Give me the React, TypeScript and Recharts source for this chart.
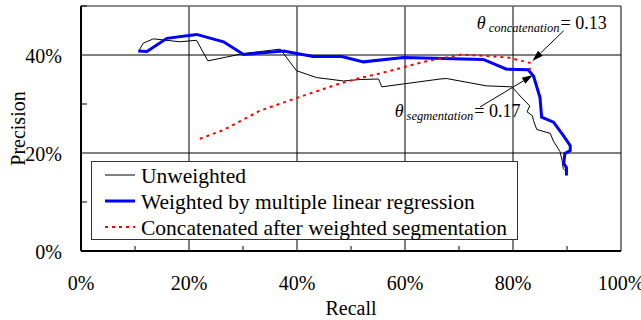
import {
  LineChart,
  Line,
  XAxis,
  YAxis,
  ReferenceLine,
  ReferenceDot,
  Legend,
  Label,
} from "recharts";

const FONT = "'Liberation Serif', 'Times New Roman', serif";

// axis ticks (percent)
const xTicks = [0, 10, 20, 30, 40, 50, 60, 70, 80, 90, 100];
const xMajor = [0, 20, 40, 60, 80, 100];
const yTicks = [0, 10, 20, 30, 40, 50];
const yMajor = [0, 20, 40];
const gridX = [20, 40, 60, 80];
const gridY = [20, 40];

// Unweighted
const unweightedRecall = [
  10.8, 11.5, 13.4, 18.3, 21.4, 23.5, 30.1, 36.9, 39.9, 43.6, 48.6, 51.7, 55.1,
  55.7, 66.5, 67.7, 75.1, 79.8, 81.6, 83.1, 82.6, 83.6, 83.8, 84.4, 86.9, 87.5,
  87.8, 88.7, 89.1, 89.3, 89.6,
];
const unweightedPrecision = [
  41.0, 42.4, 43.3, 42.7, 43.0, 38.8, 40.3, 41.2, 36.8, 35.4, 34.7, 35.0, 35.1,
  33.5, 35.1, 35.2, 33.7, 33.5, 31.3, 29.6, 28.4, 27.6, 26.6, 24.8, 24.0, 22.4,
  21.9, 20.3, 18.5, 16.8, 16.5,
];

// Weighted by multiple linear regression
const weightedRecall = [
  10.6, 12.2, 15.9, 21.4, 26.4, 30.1, 37.5, 43.0, 48.3, 52.3, 59.7, 74.5, 78.8,
  82.8, 83.8, 85.0, 85.3, 87.5, 89.3, 90.6, 90.6, 89.6, 89.4, 89.9, 89.9,
];
const weightedPrecision = [
  40.8, 40.7, 43.4, 44.2, 42.7, 40.1, 40.8, 39.7, 39.7, 38.6, 39.5, 39.1, 37.1,
  37.0, 35.7, 31.3, 27.3, 26.3, 23.6, 21.5, 20.5, 19.9, 17.9, 17.0, 15.4,
];

// Concatenated after weighted segmentation
const concatRecall = [
  22.0, 26.4, 33.1, 39.3, 48.0, 51.7, 56.0, 63.4, 70.5, 75.1, 79.1, 83.1, 83.1,
  83.8,
];
const concatPrecision = [
  22.9, 24.7, 28.6, 31.0, 34.2, 35.3, 36.4, 38.6, 40.1, 39.8, 39.5, 38.4, 36.7,
  36.7,
];

const toPoints = (xs: number[], ys: number[]) =>
  xs.map((x, i) => ({ x, y: ys[i] }));

const series = [
  {
    name: "Unweighted",
    data: toPoints(unweightedRecall, unweightedPrecision),
    color: "#000000",
    width: 1,
    dash: undefined as string | undefined,
  },
  {
    name: "Weighted by multiple linear regression",
    data: toPoints(weightedRecall, weightedPrecision),
    color: "#0000ff",
    width: 3,
    dash: undefined as string | undefined,
  },
  {
    name: "Concatenated after weighted segmentation",
    data: toPoints(concatRecall, concatPrecision),
    color: "#ff0000",
    width: 2,
    dash: "3 4",
  },
];

function XTick(props: any) {
  const { x, y, payload } = props;
  const v = payload.value;
  if (xMajor.includes(v)) {
    return (
      <text x={x} y={y + 39} textAnchor="middle" fontFamily={FONT} fontSize={20} fill="#000">
        {v}%
      </text>
    );
  }
  return <line x1={x} y1={y} x2={x} y2={y - 5} stroke="#000" />;
}

function YTick(props: any) {
  const { x, y, payload } = props;
  const v = payload.value;
  if (yMajor.includes(v)) {
    return (
      <text x={x - 19} y={y + 8} textAnchor="end" fontFamily={FONT} fontSize={20} fill="#000">
        {v}%
      </text>
    );
  }
  return <line x1={x} y1={y} x2={x + 6} y2={y} stroke="#000" />;
}

function Arrow(props: any) {
  const { x1, y1, x2, y2 } = props;
  const a = Math.atan2(y2 - y1, x2 - x1);
  const len = 11;
  const w = 3.5;
  const bx = x2 - len * Math.cos(a);
  const by = y2 - len * Math.sin(a);
  const p1 = `${bx + w * Math.sin(a)},${by - w * Math.cos(a)}`;
  const p2 = `${bx - w * Math.sin(a)},${by + w * Math.cos(a)}`;
  return (
    <g>
      <line x1={x1} y1={y1} x2={bx} y2={by} stroke="#000" strokeWidth={1} />
      <polygon points={`${x2},${y2} ${p1} ${p2}`} fill="#000" />
    </g>
  );
}

function thetaLabel(sub: string, value: string) {
  return (props: any) => (
    <text x={props.cx} y={props.cy} fontFamily={FONT} fontSize={18} fill="#000">
      <tspan fontStyle="italic">θ</tspan>
      <tspan fontStyle="italic" fontSize={12.5} dx={3} dy={3}>
        {sub}
      </tspan>
      <tspan dy={-3} dx={1}>
        = {value}
      </tspan>
    </text>
  );
}

function LegendBox() {
  return (
    <svg width={427} height={79} style={{ display: "block" }}>
      <rect x={0.5} y={0.5} width={426} height={78} fill="#fff" stroke="#333" />
      {series.map((s, i) => (
        <g key={s.name}>
          <line
            x1={14}
            x2={44}
            y1={14 + i * 26}
            y2={14 + i * 26}
            stroke={s.color}
            strokeWidth={s.width}
            strokeDasharray={s.dash}
          />
          <text x={50} y={22 + i * 26} fontFamily={FONT} fontSize={21.5} fill="#000">
            {s.name}
          </text>
        </g>
      ))}
    </svg>
  );
}

export default function App() {
  return (
    <div style={{ position: "absolute", left: 0, top: 0 }}>
      <LineChart
        width={641}
        height={320}
        margin={{ top: 6, right: 20, bottom: 9, left: 6 }}
      >
        <XAxis
          type="number"
          dataKey="x"
          domain={[0, 100]}
          ticks={xTicks}
          interval={0}
          tick={XTick}
          tickLine={false}
          tickSize={0}
          tickMargin={0}
          axisLine={{ stroke: "#000", strokeWidth: 2 }}
          height={60}
        >
          <Label
            content={(p: any) => {
              const vb = p.viewBox || { x: 81, y: 251, width: 540 };
              return (
                <text
                  x={vb.x + vb.width / 2}
                  y={vb.y + 64}
                  textAnchor="middle"
                  fontFamily={FONT}
                  fontSize={20}
                  fill="#000"
                >
                  Recall
                </text>
              );
            }}
          />
        </XAxis>
        <YAxis
          type="number"
          dataKey="y"
          domain={[0, 50]}
          ticks={yTicks}
          interval={0}
          tick={YTick}
          tickLine={false}
          tickSize={0}
          tickMargin={0}
          axisLine={{ stroke: "#000", strokeWidth: 2 }}
          width={75}
        >
          <Label
            content={(p: any) => {
              const vb = p.viewBox || { x: 6, y: 6, height: 245 };
              const cx = vb.x + 19;
              const cy = vb.y + vb.height / 2;
              return (
                <text
                  x={cx}
                  y={cy}
                  transform={`rotate(-90 ${cx} ${cy})`}
                  textAnchor="middle"
                  fontFamily={FONT}
                  fontSize={20}
                  fill="#000"
                >
                  Precision
                </text>
              );
            }}
          />
        </YAxis>

        {gridX.map((v) => (
          <ReferenceLine key={`gx${v}`} x={v} stroke="#000" strokeWidth={1} />
        ))}
        {gridY.map((v) => (
          <ReferenceLine key={`gy${v}`} y={v} stroke="#000" strokeWidth={1} />
        ))}
        <ReferenceLine y={50} stroke="#666" strokeWidth={1.5} />
        <ReferenceLine x={100} stroke="#000" strokeWidth={1} />

        {series.map((s) => (
          <Line
            key={s.name}
            name={s.name}
            data={s.data}
            dataKey="y"
            type="linear"
            stroke={s.color}
            strokeWidth={s.width}
            strokeDasharray={s.dash}
            dot={false}
            activeDot={false}
            isAnimationActive={false}
          />
        ))}

        <ReferenceLine
          segment={[
            { x: 89.4, y: 44.96 },
            { x: 83.6, y: 38.8 },
          ]}
          shape={Arrow}
        />
        <ReferenceLine
          segment={[
            { x: 73.9, y: 29.4 },
            { x: 83.7, y: 35.9 },
          ]}
          shape={Arrow}
        />
        <ReferenceDot x={73.3} y={45.4} r={0} shape={thetaLabel("concatenation", "0.13")} />
        <ReferenceDot x={58.1} y={27.35} r={0} shape={thetaLabel("segmentation", "0.17")} />

        <Legend
          layout="vertical"
          align="center"
          verticalAlign="middle"
          content={() => <LegendBox />}
          wrapperStyle={{ left: 91, top: 161, width: 427, height: 79 }}
        />
      </LineChart>
    </div>
  );
}
